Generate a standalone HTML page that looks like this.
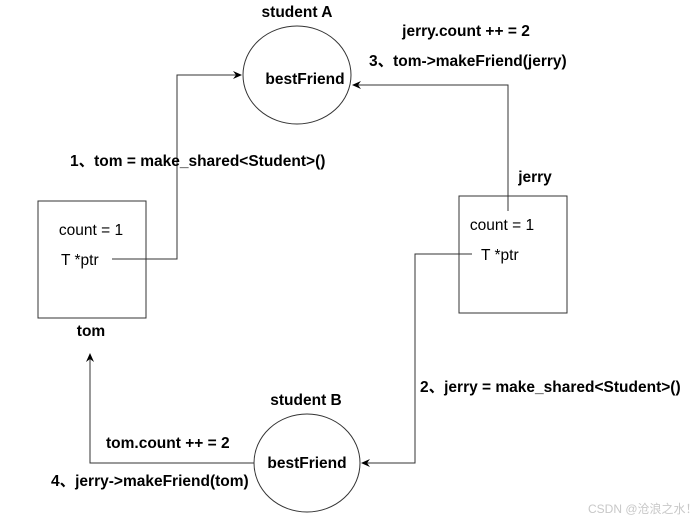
<!DOCTYPE html>
<html><head><meta charset="utf-8"><style>
html,body{margin:0;padding:0;background:#fff;}
svg text{font-family:"Liberation Sans","Noto Sans CJK SC",sans-serif;font-size:15.5px;fill:#000;}
.b{font-weight:bold;}
</style></head><body>
<svg width="691" height="523" viewBox="0 0 691 523" xmlns="http://www.w3.org/2000/svg">
<defs><marker id="a" markerWidth="10" markerHeight="10" refX="8" refY="4" orient="auto" markerUnits="userSpaceOnUse"><path d="M0,0 L9,4 L0,8 L3,4 Z" fill="#000"/></marker></defs>
<g fill="none" stroke="#333" stroke-width="1">
<ellipse cx="297" cy="75" rx="54" ry="49"/>
<ellipse cx="307" cy="463" rx="53" ry="49"/>
<rect x="38" y="201" width="108" height="117"/>
<rect x="459" y="196" width="108" height="117"/>
<polyline points="112,259 177,259 177,75 241,75" marker-end="url(#a)"/>
<polyline points="508,211 508,85 353,85" marker-end="url(#a)"/>
<polyline points="472,254 415,254 415,463 362,463" marker-end="url(#a)"/>
<polyline points="254,463 90,463 90,354" marker-end="url(#a)"/>
</g>
<text class="b" x="297" y="17" text-anchor="middle">student A</text>
<text class="b" x="466" y="36" text-anchor="middle">jerry.count ++ = 2</text>
<text class="b" x="369" y="66">3、tom-&gt;makeFriend(jerry)</text>
<text class="b" x="305" y="84" text-anchor="middle">bestFriend</text>
<text class="b" x="70" y="166">1、tom = make_shared&lt;Student&gt;()</text>
<text class="b" x="535" y="182" text-anchor="middle">jerry</text>
<text x="91" y="235" text-anchor="middle">count = 1</text>
<text x="61" y="265">T *ptr</text>
<text x="502" y="230" text-anchor="middle">count = 1</text>
<text x="481" y="260">T *ptr</text>
<text class="b" x="91" y="336" text-anchor="middle">tom</text>
<text class="b" x="420" y="392">2、jerry = make_shared&lt;Student&gt;()</text>
<text class="b" x="306" y="405" text-anchor="middle">student B</text>
<text class="b" x="106" y="448">tom.count ++ = 2</text>
<text class="b" x="307" y="468" text-anchor="middle">bestFriend</text>
<text class="b" x="51" y="486">4、jerry-&gt;makeFriend(tom)</text>
<text x="588" y="513" style="font-size:12px;fill:#c8c8c8">CSDN @沧浪之水！</text>
</svg>
</body></html>
